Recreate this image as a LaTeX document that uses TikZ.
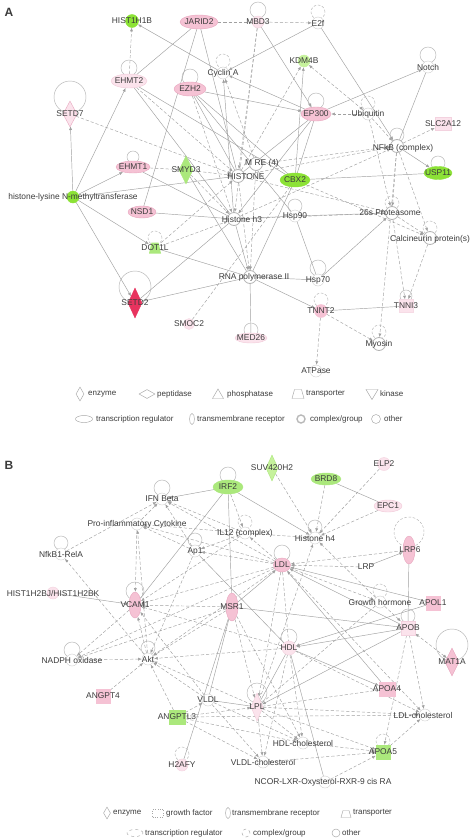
\documentclass[tikz,border=0pt]{standalone}
\usepackage{fontspec}
\setmainfont{Liberation Sans}
\usetikzlibrary{shapes.geometric,arrows.meta,backgrounds,calc}
\definecolor{edgec}{HTML}{A0A0A0}
\definecolor{txtc}{HTML}{3C3C3C}
\definecolor{pinkF}{HTML}{F5C2D4}
\definecolor{pinkD}{HTML}{E8A6BE}
\definecolor{lpinkF}{HTML}{FBE3EC}
\definecolor{grnB}{HTML}{8CE236}
\definecolor{grnL}{HTML}{C6F29C}
\definecolor{grnM}{HTML}{ABE87C}
\definecolor{redF}{HTML}{E8335E}
\definecolor{shD}{HTML}{CFCFCF}
\definecolor{cpxD}{HTML}{B4B4B4}
\tikzset{
  lbl/.style={font=\fontsize{8.4}{9}\selectfont, text=txtc, inner sep=0pt},
  leg/.style={lbl, font=\fontsize{8}{9}\selectfont, anchor=west},
  shp/.style={inner sep=0pt, line width=0.4pt},
  oth/.style={shp, circle, minimum size=12pt, draw=shD, fill=white},
  cpx/.style={shp, circle, minimum size=13pt, draw=cpxD, line width=0.8pt, fill=white},
  pell/.style={shp, ellipse, fill=pinkF, draw=pinkD},
  lpell/.style={shp, ellipse, fill=lpinkF, draw=pinkD!60},
  ed/.style={draw=edgec, line width=0.45pt, -{Latex[length=3.6pt,width=3pt]}},
  dd/.style={ed, dash pattern=on 3.2pt off 2pt},
  ddb/.style={draw=edgec, line width=0.45pt, {Latex[length=3.6pt,width=3pt]}-{Latex[length=3.6pt,width=3pt]}, dash pattern=on 3.2pt off 2pt},
  ln/.style={draw=edgec, line width=0.45pt},
  dl/.style={ln, dash pattern=on 3.2pt off 2pt},
  lp/.style={draw=edgec!80, line width=0.45pt},
  lpd/.style={lp, dash pattern=on 2.5pt off 1.8pt},
  legs/.style={draw=gray!70, line width=0.45pt, inner sep=0pt, fill=white},
  legp/.style={draw=gray!70, line width=0.45pt, fill=white},
}
\newcommand\loopc[4][lp]{\draw[#1] ($(#2)+(0,-#4)$) circle[radius=#3pt];}
\begin{document}
\begin{tikzpicture}[x=1pt,y=-1pt]
\useasboundingbox (0,0) rectangle (474,838);
% ================= PANEL A shapes =================
\node[shp,circle,minimum size=13pt,fill=grnB,draw=grnB] (hist1h1b) at (132,21) {};
\node[pell,minimum width=38pt,minimum height=14pt] (jarid2) at (199,22) {};
\node[shp,circle,minimum size=12pt,fill=lpinkF,draw=pinkD!50] (mbd3) at (258,22) {};
\node[oth] (e2f) at (318,23) {};
\node[lpell,minimum width=36pt,minimum height=14pt] (ehmt2) at (129,81) {};
\node[oth] (cyclina) at (223,73) {};
\node[pell,minimum width=32pt,minimum height=14pt] (ezh2) at (190,89) {};
\node[shp,circle,minimum size=12pt,fill=grnL,draw=grnL] (kdm4b) at (304,61) {};
\node[oth] (notch) at (428,67) {};
\node[shp,diamond,minimum width=14pt,minimum height=26pt,fill=lpinkF,draw=pinkD] (setd7) at (70,114) {};
\node[pell,minimum width=30pt,minimum height=14pt] (ep300) at (316,114) {};
\node[oth] (ubiq) at (368,114) {};
\node[shp,rectangle,minimum width=16pt,minimum height=13pt,fill=lpinkF,draw=pinkD!50] (slc2a12) at (443,124) {};
\node[cpx] (nfkb) at (397,146) {};
\node[pell,minimum width=34pt,minimum height=12pt] (ehmt1) at (133,167) {};
\node[shp,diamond,minimum width=14pt,minimum height=28pt,fill=grnM,draw=grnM] (smyd3) at (186,170) {};
\node[cpx] (mre) at (256,164) {};
\node[cpx] (histone) at (238,176) {};
\node[shp,ellipse,minimum width=30pt,minimum height=14pt,fill=grnB,draw=grnB] (cbx2) at (295,180) {};
\node[shp,ellipse,minimum width=28pt,minimum height=13pt,fill=grnB,draw=grnB] (usp11) at (438,173) {};
\node[shp,circle,minimum size=12pt,fill=grnB,draw=grnB] (hlnm) at (73,197) {};
\node[pell,minimum width=28pt,minimum height=12pt] (nsd1) at (142,212) {};
\node[cpx] (h3) at (234,219) {};
\node[oth] (hsp90) at (295,216) {};
\node[cpx] (p26s) at (392,213) {};
\node[cpx] (calc) at (430,238) {};
\node[shp,rectangle,minimum width=12pt,minimum height=11pt] (dot1l) at (155,248) {};
\fill[grnM] ($(dot1l)+(-6,5.5)$) -- ++(12,0) -- ++(-2.5,-11) -- ++(-7,0) -- cycle;
\node[cpx] (rnap) at (250,277) {};
\node[oth] (hsp70) at (318,280) {};
\node[shp,diamond,minimum width=14pt,minimum height=30pt,fill=redF,draw=redF] (setd2) at (135,303) {};
\node[shp,circle,minimum size=11pt,fill=lpinkF,draw=pinkD!40] (smoc2) at (189,324) {};
\node[shp,circle,minimum size=13pt,fill=pinkF,draw=pinkF] (tnnt2) at (321,311) {};
\node[shp,rectangle,minimum width=14pt,minimum height=13pt,fill=lpinkF,draw=pinkD!40] (tnni3) at (406,306) {};
\node[lpell,minimum width=32pt,minimum height=10pt] (med26) at (251,338) {};
\node[cpx] (myosin) at (379,344) {};
\node[oth] (atpase) at (316,371) {};
% ================= PANEL B shapes =================
\node[shp,diamond,minimum width=12pt,minimum height=26pt,fill=grnL,draw=grnM] (suv) at (272,468) {};
\node[shp,circle,minimum size=13pt,fill=lpinkF,draw=pinkD!50] (elp2) at (384,464) {};
\node[shp,ellipse,minimum width=30pt,minimum height=12pt,fill=grnM,draw=grnM] (brd8) at (326,479) {};
\node[shp,ellipse,minimum width=30pt,minimum height=14pt,fill=grnM,draw=grnM] (irf2) at (228,487) {};
\node[lpell,minimum width=28pt,minimum height=12pt] (epc1) at (388,506) {};
\node[oth] (ifnb) at (162,499) {};
\node[oth] (proinf) at (137,524) {};
\node[oth] (il12) at (245,533) {};
\node[oth] (h4) at (315,538) {};
\node[pell,minimum width=12pt,minimum height=28pt] (lrp6) at (409,550) {};
\node[oth] (nfkb1) at (61,554) {};
\node[oth] (ap1) at (195,551) {};
\node[pell,minimum width=17pt,minimum height=14pt] (ldl) at (282,565) {};
\node[oth,draw=none,fill=none] (lrp) at (365,567) {};
\node[shp,circle,minimum size=12pt,fill=lpinkF,draw=pinkD!50] (hist2b) at (53,593) {};
\node[pell,minimum width=12pt,minimum height=26pt] (vcam1) at (135,605) {};
\node[pell,minimum width=12pt,minimum height=28pt] (msr1) at (232,607) {};
\node[oth] (gh) at (380,602) {};
\node[shp,rectangle,minimum width=14pt,minimum height=14pt,fill=pinkF,draw=pinkF] (apol1) at (433,603) {};
\node[shp,rectangle,minimum width=14pt,minimum height=14pt,fill=lpinkF,draw=pinkD!50] (apob) at (408,628) {};
\node[shp,circle,minimum size=14pt,fill=lpinkF,draw=pinkD!50] (hdl) at (289,648) {};
\node[shp,diamond,minimum width=14pt,minimum height=28pt,fill=pinkF,draw=pinkD] (mat1a) at (452,662) {};
\node[oth] (nadph) at (72,660) {};
\node[oth] (akt) at (148,659) {};
\node[shp,rectangle,minimum width=16pt,minimum height=14pt,fill=pinkF,draw=pinkF] (apoa4) at (387,689) {};
\node[shp,rectangle,minimum width=14pt,minimum height=14pt,fill=pinkF,draw=pinkF] (angpt4) at (103,696) {};
\node[oth] (vldl) at (208,700) {};
\node[shp,diamond,minimum width=12pt,minimum height=28pt,fill=lpinkF,draw=pinkD!60] (lpl) at (257,707) {};
\node[shp,rectangle,minimum width=16pt,minimum height=14pt,fill=grnM,draw=grnM] (angptl3) at (177,717) {};
\node[oth] (ldlc) at (425,715) {};
\node[oth] (hdlc) at (303,743) {};
\node[shp,rectangle,minimum width=14pt,minimum height=14pt,fill=grnM,draw=grnM] (apoa5) at (383,752) {};
\node[shp,circle,minimum size=12pt,fill=lpinkF,draw=pinkD!50] (h2afy) at (182,765) {};
\node[oth] (vldlc) at (263,762) {};
\node[oth] (ncor) at (325,782) {};
% ================= EDGES =================
\begin{scope}[on background layer]
\fill[white] (0,0) rectangle (474,838);
% ---- A ----
\draw[dd] (ehmt2) -- (hist1h1b);
\draw[ed] (cyclina) -- (hist1h1b);
\draw[ln] (jarid2) -- (ehmt2);
\draw[dl] (jarid2) -- (mbd3);
\draw[dd] (mbd3) -- (e2f);
\draw[ln] (jarid2) -- (histone);
\draw[ln] (jarid2) -- (nsd1);
\draw[dd] (mbd3) -- (histone);
\draw[dd] (mbd3) -- (h3);
\draw[ed] (mbd3) -- (ep300);
\draw[ed] (e2f) -- (cyclina);
\draw[ed] (e2f) -- (nfkb);
\draw[ddb] (kdm4b) -- (ubiq);
\draw[ed] (cbx2) -- (kdm4b);
\draw[dd] (histone) -- (kdm4b);
\draw[ed] (ep300) -- (notch);
\draw[ln] (notch) -- (nfkb);
\draw[dd] (ubiq) -- (ep300);
\draw[ed] (ep300) -- (cyclina);
\draw[ed] (ezh2) -- (ep300);
\draw[dd] (nfkb) -- (slc2a12);
\draw[dd] (setd7) -- (histone);
\draw[ed] (hlnm) -- (setd7);
\draw[ed] (hlnm) -- (ehmt2);
\draw[ed] (hlnm) -- (ehmt1);
\draw[ed] (hlnm) -- (dot1l);
\draw[ed] (hlnm) -- (setd2);
\draw[ln] (hlnm) -- (histone);
\draw[dd] (ehmt2) -- (histone);
\draw[ln] (ehmt2) -- (h3);
\draw[ln] (ehmt2) -- (cbx2);
\draw[ln] (ezh2) -- (histone);
\draw[dd] (ezh2) -- (h3);
\draw[ln] (ezh2) -- (cbx2);
\draw[ln] (ezh2) -- (hsp90);
\draw[ed] (h3) -- (cyclina);
\draw[dd] (mre) -- (cyclina);
\draw[dl] (ehmt1) -- (smyd3);
\draw[ln] (ehmt1) -- (h3);
\draw[dd] (smyd3) -- (histone);
\draw[dd] (smyd3) -- (h3);
\draw[ln] (smyd3) -- (rnap);
\draw[ln] (nsd1) -- (h3);
\draw[dd] (dot1l) -- (h3);
\draw[dd] (dot1l) -- (histone);
\draw[ln] (dot1l) -- (rnap);
\draw[ln] (cbx2) -- (usp11);
\draw[dd] (histone) -- (nfkb);
\draw[dd] (mre) -- (nfkb);
\draw[dd] (h3) -- (nfkb);
\draw[dd] (nfkb) -- (p26s);
\draw[dd] (nfkb) -- (calc);
\draw[dd] (p26s) -- (calc);
\draw[ln] (hsp90) -- (p26s);
\draw[ln] (hsp90) -- (h3);
\draw[ln] (hsp90) -- (hsp70);
\draw[dd] (h3) -- (p26s);
\draw[dd] (histone) -- (p26s);
\draw[dd] (cbx2) -- (calc);
\draw[ln] (rnap) -- (hsp70);
\draw[ln] (rnap) -- (med26);
\draw[ed] (rnap) -- (tnnt2);
\draw[ln] (setd2) -- (rnap);
\draw[ln] (setd2) -- (h3);
\draw[dl] (smoc2) -- (cbx2);
\draw[ln] (tnnt2) -- (tnni3);
\draw[dd] (tnnt2) -- (myosin);
\draw[dd] (tnnt2) -- (atpase);
\draw[dd] (p26s) -- (tnni3);
\draw[dd] (calc) -- (tnni3);
\draw[dd] (nfkb) -- (myosin);
\draw[ed] (hsp70) -- (p26s);
\draw[ed] (h3) -- (rnap);
\draw[dd] (histone) -- (rnap);
\draw[ed] (nfkb) -- (usp11);
\draw[dd] (ubiq) -- (nfkb);
\draw[ln] (ep300) -- (histone);
\draw[ed] (ep300) -- (h3);
\draw[ln] (ep300) -- (cbx2);
\draw[dd] (ubiq) -- (p26s);
\draw[dd] (mre) -- (rnap);
\draw[ln] (cbx2) -- (rnap);
% loops A
\loopc{mbd3}{8}{12}
\loopc[lpd]{e2f}{7}{11}
\loopc{ehmt2}{8}{13}
\loopc[lpd]{cyclina}{7}{12}
\loopc{ezh2}{8}{12}
\loopc{notch}{8}{12}
\loopc{setd7}{16}{17}
\loopc{ep300}{8}{13}
\loopc[lpd]{ubiq}{7}{11}
\loopc{ehmt1}{6}{10}
\loopc{usp11}{7}{10}
\loopc{hsp90}{7}{10}
\loopc[lpd]{dot1l}{7}{10}
\loopc{hsp70}{8}{12}
\loopc{setd2}{16}{16}
\loopc[lpd]{tnnt2}{7}{11}
\loopc{tnni3}{6}{10}
\loopc{med26}{7}{8}
\loopc[lpd]{myosin}{7}{12}
\loopc[lpd]{calc}{7}{10}
\loopc[lpd]{p26s}{7}{10}
\loopc{nfkb}{7}{11}
% ---- B ----
\draw[dd] (suv) -- (h4);
\draw[dd] (brd8) -- (h4);
\draw[dd] (elp2) -- (h4);
\draw[dd] (epc1) -- (h4);
\draw[ln] (brd8) -- (epc1);
\draw[ed] (irf2) -- (ifnb);
\draw[ed] (irf2) -- (h4);
\draw[dd] (irf2) -- (il12);
\draw[ln] (irf2) -- (vcam1);
\draw[ln] (irf2) -- (msr1);
\draw[dd] (akt) -- (nfkb1);
\draw[dd] (nfkb1) -- (ifnb);
\draw[dd] (proinf) -- (ifnb);
\draw[dd] (il12) -- (ifnb);
\draw[dd] (ap1) -- (ifnb);
\draw[dd] (ldl) -- (ifnb);
\draw[dd] (il12) -- (proinf);
\draw[dd] (ap1) -- (proinf);
\draw[dd] (ldl) -- (proinf);
\draw[dd] (proinf) -- (vcam1);
\draw[dd] (akt) -- (proinf);
\draw[dd] (il12) -- (h4);
\draw[dd] (il12) -- (ap1);
\draw[dd] (ldl) -- (il12);
\draw[dd] (ldl) -- (ap1);
\draw[dd] (lrp6) -- (ldl);
\draw[dd] (lrp) -- (ldl);
\draw[ed] (lrp) -- (lrp6);
\draw[ln] (lrp6) -- (apob);
\draw[dd] (ldl) -- (vcam1);
\draw[ed] (msr1) -- (ldl);
\draw[ed] (apob) -- (ldl);
\draw[dl] (ldl) -- (hdl);
\draw[dd] (ldl) -- (lpl);
\draw[ed] (apoa4) -- (ldl);
\draw[dd] (ldl) -- (akt);
\draw[dd] (ldl) -- (nadph);
\draw[dd] (ldl) -- (gh);
\draw[dd] (ldl) -- (ldlc);
\draw[ed] (hist2b) -- (vcam1);
\draw[dd] (nadph) -- (akt);
\draw[dd] (vcam1) -- (nadph);
\draw[dd] (msr1) -- (nadph);
\draw[dd] (akt) -- (vcam1);
\draw[dd] (msr1) -- (akt);
\draw[dd] (msr1) -- (vcam1);
\draw[dd] (angpt4) -- (akt);
\draw[dd] (angptl3) -- (akt);
\draw[dd] (angptl3) -- (vldl);
\draw[dd] (angptl3) -- (lpl);
\draw[dd] (angptl3) -- (ldlc);
\draw[dd] (angptl3) -- (vldlc);
\draw[dd] (angptl3) -- (hdlc);
\draw[dd] (vldl) -- (akt);
\draw[ln] (vldl) -- (lpl);
\draw[ln] (vldl) -- (msr1);
\draw[dd] (vldl) -- (vcam1);
\draw[dd] (hdl) -- (akt);
\draw[dd] (hdl) -- (vcam1);
\draw[ed] (apob) -- (hdl);
\draw[ed] (hdl) -- (apoa4);
\draw[ln] (hdl) -- (lpl);
\draw[dd] (hdl) -- (hdlc);
\draw[dd] (gh) -- (apob);
\draw[dl] (gh) -- (lpl);
\draw[ed] (apol1) -- (hdl);
\draw[ed] (apol1) -- (ldl);
\draw[ddb] (mat1a) -- (apob);
\draw[dd] (apob) -- (ldlc);
\draw[dd] (apob) -- (apoa5);
\draw[ed] (apob) -- (lpl);
\draw[dl] (apoa4) -- (lpl);
\draw[dd] (apoa5) -- (ldlc);
\draw[dd] (lpl) -- (apoa5);
\draw[dd] (vldlc) -- (apoa5);
\draw[dd] (hdlc) -- (apoa5);
\draw[dd] (ncor) -- (apoa5);
\draw[dd] (lpl) -- (hdlc);
\draw[dd] (lpl) -- (vldlc);
\draw[dd] (lpl) -- (ldlc);
\draw[ln] (h2afy) -- (msr1);
\draw[ln] (ncor) -- (hdl);
\draw[dd] (msr1) -- (lpl);
\draw[dd] (msr1) -- (hdlc);
\draw[dd] (gh) -- (h4);
\draw[dd] (ap1) -- (akt);
\draw[dd] (il12) -- (vcam1);
\draw[dd] (vldl) -- (hdlc);
\draw[dd] (vldl) -- (vldlc);
\draw[dd] (hdl) -- (vldlc);
\draw[ln] (msr1) -- (apob);
\draw[dd] (lpl) -- (akt);
\draw[dd] (hdl) -- (ldlc);
\draw[ln] (ap1) -- (hdl);
\draw[dd] (lpl) -- (h4);
% loops B
\loopc{irf2}{8}{12}
\loopc{ifnb}{8}{11}
\loopc[lpd]{il12}{7}{11}
\loopc{h4}{7}{11}
\loopc[lpd]{lrp6}{15}{18}
\loopc{nfkb1}{7}{11}
\loopc{ap1}{7}{11}
\loopc{ldl}{8}{12}
\loopc{vcam1}{9}{14}
\loopc[lpd]{gh}{7}{11}
\loopc{apob}{7}{12}
\loopc{hdl}{8}{11}
\loopc{mat1a}{16}{17}
\loopc{nadph}{8}{10}
\loopc{akt}{7}{11}
\loopc{lpl}{10}{14}
\loopc[lpd]{apoa5}{7}{11}
\loopc[lpd]{h2afy}{7}{11}
\end{scope}
% ================= LABELS =================
\node[font=\bfseries\fontsize{12}{13}\selectfont, text=txtc] at (9,12) {A};
\node[font=\bfseries\fontsize{12}{13}\selectfont, text=txtc] at (9,465) {B};
% A labels
\node[lbl] at (132,21) {HIST1H1B};
\node[lbl] at (199,22) {JARID2};
\node[lbl] at (258,22) {MBD3};
\node[lbl] at (318,23) {E2f};
\node[lbl] at (129,81) {EHMT2};
\node[lbl] at (223,73) {Cyclin A};
\node[lbl] at (190,89) {EZH2};
\node[lbl] at (304,61) {KDM4B};
\node[lbl] at (428,67) {Notch};
\node[lbl] at (70,114) {SETD7};
\node[lbl] at (316,114) {EP300};
\node[lbl] at (368,114) {Ubiquitin};
\node[lbl] at (443,124) {SLC2A12};
\node[lbl] at (403,148) {NFkB (complex)};
\node[lbl] at (133,167) {EHMT1};
\node[lbl] at (186,170) {SMYD3};
\node[lbl] at (262,163) {M RE (4)};
\node[lbl] at (246,177) {HISTONE};
\node[lbl] at (295,180) {CBX2};
\node[lbl] at (438,173) {USP11};
\node[lbl] at (73,197) {histone-lysine N-methyltransferase};
\node[lbl] at (142,212) {NSD1};
\node[lbl] at (242,219) {Histone h3};
\node[lbl] at (295,216) {Hsp90};
\node[lbl] at (390,213) {26s Proteasome};
\node[lbl] at (430,239) {Calcineurin protein(s)};
\node[lbl] at (155,248) {DOT1L};
\node[lbl] at (254,277) {RNA polymerase II};
\node[lbl] at (318,280) {Hsp70};
\node[lbl] at (135,303) {SETD2};
\node[lbl] at (189,324) {SMOC2};
\node[lbl] at (321,311) {TNNT2};
\node[lbl] at (406,306) {TNNI3};
\node[lbl] at (251,338) {MED26};
\node[lbl] at (379,344) {Myosin};
\node[lbl] at (316,371) {ATPase};
% A legend
\node[legs,diamond,minimum width=8pt,minimum height=14pt] (la1) at (80,394) {};
\node[leg] at (88,394) {enzyme};
\node[legs,diamond,minimum width=16pt,minimum height=9pt] (la2) at (147,394) {};
\node[leg] at (157,394) {peptidase};
\coordinate (la3) at (218,394);
\draw[legp] ($(la3)+(-5.5,4.5)$) -- ++(11,0) -- ++(-5.5,-9.5) -- cycle;
\node[leg] at (227,394) {phosphatase};
\coordinate (la4) at (298,394);
\draw[legp] ($(la4)+(-6,4.5)$) -- ++(12,0) -- ++(-2.5,-9) -- ++(-7,0) -- cycle;
\node[leg] at (306,394) {transporter};
\coordinate (la5) at (372,394);
\draw[legp] ($(la5)+(-6,-4.5)$) -- ++(12,0) -- ++(-6,10) -- cycle;
\node[leg] at (380,394) {kinase};
\node[legs,ellipse,minimum width=17pt,minimum height=7pt] (la6) at (84,419) {};
\node[leg] at (96,419) {transcription regulator};
\node[legs,ellipse,minimum width=5pt,minimum height=11pt] (la7) at (192,419) {};
\node[leg] at (197,419) {transmembrane receptor};
\node[legs,circle,minimum size=8pt,line width=1.4pt,draw=gray!55] (la8) at (301,419) {};
\node[leg] at (310,419) {complex/group};
\node[legs,circle,minimum size=9pt] (la9) at (376,419) {};
\node[leg] at (384,419) {other};
% B labels
\node[lbl] at (272,468) {SUV420H2};
\node[lbl] at (384,464) {ELP2};
\node[lbl] at (326,479) {BRD8};
\node[lbl] at (228,487) {IRF2};
\node[lbl] at (388,506) {EPC1};
\node[lbl] at (162,499) {IFN Beta};
\node[lbl] at (137,524) {Pro-inflammatory Cytokine};
\node[lbl] at (245,533) {IL12 (complex)};
\node[lbl] at (315,538) {Histone h4};
\node[lbl] at (410,550) {LRP6};
\node[lbl] at (61,554) {NfkB1-RelA};
\node[lbl] at (195,551) {Ap1};
\node[lbl] at (282,565) {LDL};
\node[lbl] at (366,567) {LRP};
\node[lbl] at (53,593) {HIST1H2BJ/HIST1H2BK};
\node[lbl] at (135,605) {VCAM1};
\node[lbl] at (232,607) {MSR1};
\node[lbl] at (380,602) {Growth hormone};
\node[lbl] at (433,603) {APOL1};
\node[lbl] at (408,628) {APOB};
\node[lbl] at (289,648) {HDL};
\node[lbl] at (452,662) {MAT1A};
\node[lbl] at (72,660) {NADPH oxidase};
\node[lbl] at (148,659) {Akt};
\node[lbl] at (387,689) {APOA4};
\node[lbl] at (103,696) {ANGPT4};
\node[lbl] at (208,700) {VLDL};
\node[lbl] at (257,707) {LPL};
\node[lbl] at (177,717) {ANGPTL3};
\node[lbl] at (423,715) {LDL-cholesterol};
\node[lbl] at (303,743) {HDL-cholesterol};
\node[lbl] at (383,752) {APOA5};
\node[lbl] at (182,765) {H2AFY};
\node[lbl] at (263,762) {VLDL-cholesterol};
\node[lbl] at (323,782) {NCOR-LXR-Oxysterol-RXR-9 cis RA};
% B legend
\node[legs,diamond,minimum width=7pt,minimum height=12pt] (lb1) at (107,813) {};
\node[leg] at (113,813) {enzyme};
\node[legs,rectangle,minimum width=11pt,minimum height=8pt,dotted] (lb2) at (158,813) {};
\node[leg] at (166,813) {growth factor};
\node[legs,ellipse,minimum width=5pt,minimum height=11pt] (lb3) at (228,813) {};
\node[leg] at (232,813) {transmembrane receptor};
\coordinate (lb4) at (346,814);
\draw[legp] ($(lb4)+(-5,3.5)$) -- ++(10,0) -- ++(-2,-7) -- ++(-6,0) -- cycle;
\node[leg] at (353,813) {transporter};
\node[legs,ellipse,minimum width=16pt,minimum height=7pt,dashed] (lb5) at (135,833) {};
\node[leg] at (145,833) {transcription regulator};
\node[legs,circle,minimum size=8pt,dashed] (lb6) at (246,833) {};
\node[leg] at (253,833) {complex/group};
\node[legs,circle,minimum size=8pt] (lb7) at (336,833) {};
\node[leg] at (342,833) {other};
\end{tikzpicture}
\end{document}
